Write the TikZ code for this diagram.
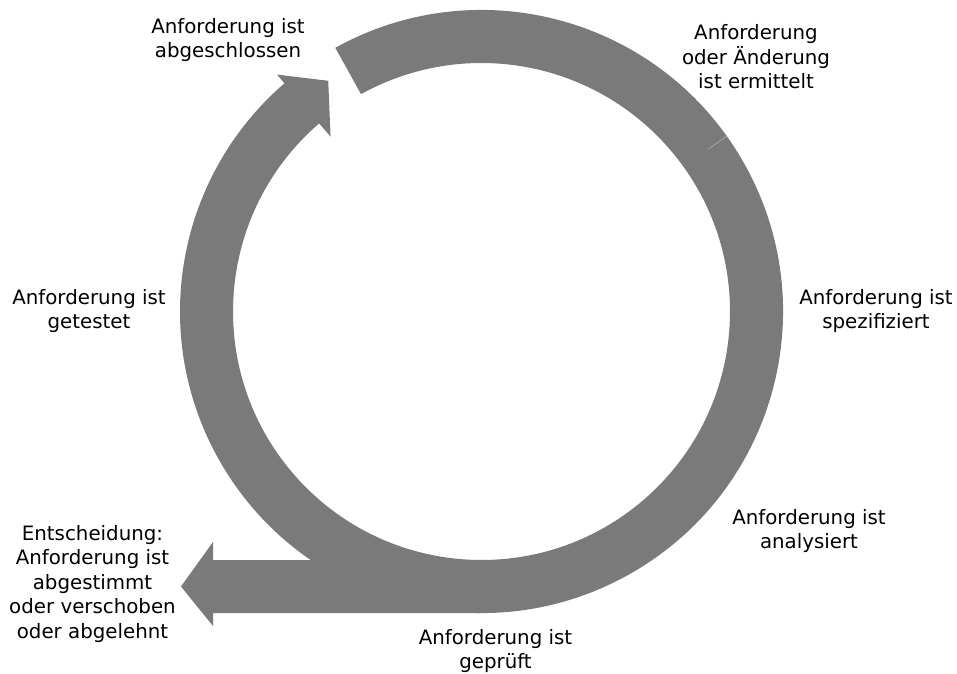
\documentclass[tikz,border=0pt]{standalone}
\usepackage{fontspec}
\setmainfont{DejaVu Sans}
\usepackage{xcolor}
\definecolor{cyclegray}{RGB}{122,122,122}
\definecolor{seamgray}{RGB}{175,175,175}
\usetikzlibrary{calc}

\begin{document}
\begin{tikzpicture}[x=1pt, y=1pt,
  lbl/.style={font=\fontsize{19.8}{24.5}\selectfont, align=center, inner sep=0pt, text=black}]

\useasboundingbox (0,0) rectangle (957,673);
\coordinate (c) at (481.5,361.5);

% === Cycle ring, ends in an arrow head at the top left ===
\fill[cyclegray] ([shift={(119:301.5pt)}]c)
  arc[start angle=119, end angle=-229.2, radius=301.5pt]
  -- ([shift={(130.8:313pt)}]c) -- ([shift={(123.6:277pt)}]c)
  -- ([shift={(130.8:231pt)}]c) -- ([shift={(130.8:248.5pt)}]c)
  arc[start angle=-229.2, end angle=119, radius=248.5pt] -- cycle;
\draw[seamgray, line width=0.6pt] ([shift={(35.6:301.5pt)}]c) -- ([shift={(35.6:279pt)}]c);

% === Exit arrow at the bottom ===
\fill[cyclegray] (481.5,113) -- (213,113) -- (213,131) -- (181,86.5)
  -- (213,47) -- (213,60) -- (481.5,60) -- cycle;

% === Labels ===
\node[lbl] (closed) at (228,633) {Anforderung ist\\abgeschlossen};
\node[lbl] (found) at (756,616) {Anforderung\\oder Änderung\\ist ermittelt};
\node[lbl] (specified) at (876,362) {Anforderung ist\\spezifiziert};
\node[lbl] (analysed) at (809,142) {Anforderung ist\\analysiert};
\node[lbl] (checked) at (495.5,22) {Anforderung ist\\geprüft};
\node[lbl] (tested) at (89,362) {Anforderung ist\\getestet};
\node[lbl] (decision) at (92.5,89) {Entscheidung:\\Anforderung ist\\abgestimmt\\oder verschoben\\oder abgelehnt};

\end{tikzpicture}
\end{document}
